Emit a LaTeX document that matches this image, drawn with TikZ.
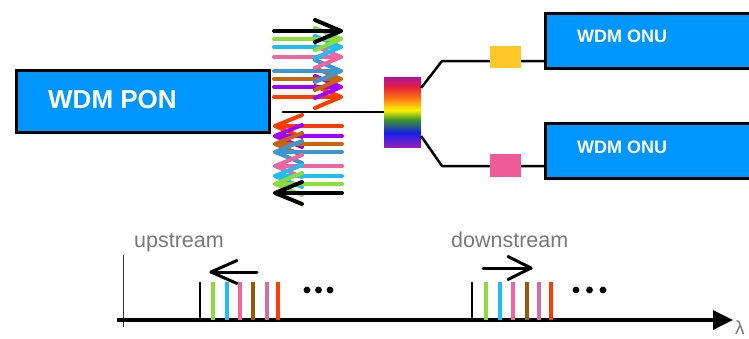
\documentclass[tikz,border=0pt]{standalone}
\usepackage{fontspec}
\setmainfont{Liberation Sans}
\usetikzlibrary{arrows.meta}
\definecolor{boxblue}{RGB}{0,150,255}
\definecolor{cgreen}{RGB}{140,220,60}
\definecolor{clblue}{RGB}{30,190,240}
\definecolor{cpink}{RGB}{240,100,160}
\definecolor{csteel}{RGB}{60,150,210}
\definecolor{cbrown}{RGB}{200,100,10}
\definecolor{cpurple}{RGB}{160,0,255}
\definecolor{cred}{RGB}{255,60,0}
\definecolor{bbrown}{RGB}{150,90,0}
\definecolor{bmauve}{RGB}{210,110,160}
\definecolor{fyellow}{RGB}{255,200,40}
\definecolor{fpink}{RGB}{240,90,150}
\definecolor{txtgray}{RGB}{120,120,120}
\definecolor{rpurA}{RGB}{170,20,160}
\definecolor{rred}{RGB}{230,30,60}
\definecolor{rorange}{RGB}{250,110,20}
\definecolor{ryellow}{RGB}{255,240,0}
\definecolor{rgreen}{RGB}{60,150,40}
\definecolor{rblue}{RGB}{20,30,230}
\definecolor{rpurB}{RGB}{150,30,190}
\pgfdeclareverticalshading{rainbow}{100bp}{color(0bp)=(rpurB); color(25bp)=(rpurB); color(35bp)=(rblue); color(44.5bp)=(rgreen); color(51.5bp)=(ryellow); color(60.5bp)=(rorange); color(68bp)=(rred); color(75bp)=(rpurA); color(100bp)=(rpurA)}
\tikzset{
  unitbox/.style={draw=black, line width=3pt, fill=boxblue, inner sep=0pt},
  boxtext/.style={text=white, font=\bfseries, anchor=base west, inner sep=0pt},
  filterbox/.style={inner sep=0pt, minimum width=31pt, minimum height=22pt},
  fiber/.style={line width=2.5pt, line join=round},
  wave/.style={line width=4pt, line cap=round, line join=round},
  bar/.style={line width=3.5pt},
  lbl/.style={text=txtgray, anchor=base west, inner sep=0pt, font=\fontsize{21.5pt}{24pt}\selectfont},
  dirarrow/.style={line width=3pt, line cap=round, line join=round},
}
\begin{document}
\begin{tikzpicture}[x=1pt,y=-1pt]
\useasboundingbox (0,0) rectangle (749,338);
% boxes
\node[unitbox, minimum width=253pt, minimum height=62pt] (pon) at (143,101.5) {};
\node[boxtext, font=\bfseries\fontsize{26pt}{30pt}\selectfont] (pontext) at (48,108) {WDM PON};
\node[unitbox, minimum width=220pt, minimum height=55pt] (onu1) at (655.5,41) {};
\node[boxtext, font=\bfseries\fontsize{18pt}{21pt}\selectfont] (onu1text) at (577,42) {WDM ONU};
\node[unitbox, minimum width=220pt, minimum height=55pt] (onu2) at (655.5,151) {};
\node[boxtext, font=\bfseries\fontsize{18pt}{21pt}\selectfont] (onu2text) at (577,153) {WDM ONU};
% splitter
\node[shade, shading=rainbow, minimum width=37pt, minimum height=70pt, inner sep=0pt] (split) at (402.5,112) {};
% fibers
\coordinate (ponout) at (282,112);
\coordinate (k1) at (442,61);
\coordinate (k2) at (442,166);
\draw[fiber] (ponout) -- (split.west);
\draw[fiber] ([yshift=-11pt]split.north east) -- (k1) -- (k1 -| onu1.west);
\draw[fiber] ([yshift=11pt]split.south east) -- (k2) -- (k2 -| onu2.west);
\node[filterbox, fill=fyellow] (f1) at (505.5,57) {};
\node[filterbox, fill=fpink, minimum height=23pt] (f2) at (505.5,165.5) {};
% downstream bundle
\foreach \y/\c in {97/cred, 87/cpurple, 79/cbrown, 71/csteel, 57/cpink, 47/clblue, 39/cgreen, 31/black}{
  \draw[wave, draw=\c] (274,\y) -- (341,\y);
  \draw[wave, draw=\c] (315,\y-11) -- (341,\y) -- (315,\y+11);
}
% upstream bundle
\foreach \y/\c in {126/cred, 136/cpurple, 144/cbrown, 152/csteel, 166/cpink, 176/clblue, 184/cgreen, 193/black}{
  \draw[wave, draw=\c] (342,\y) -- (275,\y);
  \draw[wave, draw=\c] (302,\y-11) -- (275,\y) -- (302,\y+11);
}
% spectrum
\draw[line width=1pt, draw=black!80] (123,255) -- (123,327);
\coordinate (axs) at (117,320);
\coordinate (axe) at (733,320);
\draw[line width=3.5pt, -{Triangle[length=20pt,width=19pt]}] (axs) -- (axe);
\node[anchor=base west, inner sep=0pt, text=txtgray, font=\fontsize{19pt}{22pt}\selectfont] (lam) at (735,334) {λ};
\node[lbl] (up) at (134,247) {upstream};
\node[lbl] (down) at (451,247) {downstream};
\foreach \x/\c in {213/cgreen, 227/clblue, 240/cpink, 253/bbrown, 267/bmauve, 278/cred}{
  \draw[bar, draw=\c] (\x,282) -- (\x,320);
}
\draw[line width=2.5pt] (200,282) -- (200,320);
\foreach \x/\c in {486/cgreen, 500/clblue, 513/cpink, 527/bbrown, 539/bmauve, 551/cred}{
  \draw[bar, draw=\c] (\x,282) -- (\x,320);
}
\draw[line width=2.5pt] (472,282) -- (472,320);
\foreach \x in {307,318.5,330,576,589.5,603}{
  \fill (\x,290) circle (3.4pt);
}
% direction arrows
\draw[dirarrow] (257,272) -- (211,272);
\draw[dirarrow] (237,260.5) -- (211,272) -- (237,283.5);
\draw[dirarrow] (483,268) -- (531,268);
\draw[dirarrow] (508,256.5) -- (531,268) -- (508,279.5);
\end{tikzpicture}
\end{document}
